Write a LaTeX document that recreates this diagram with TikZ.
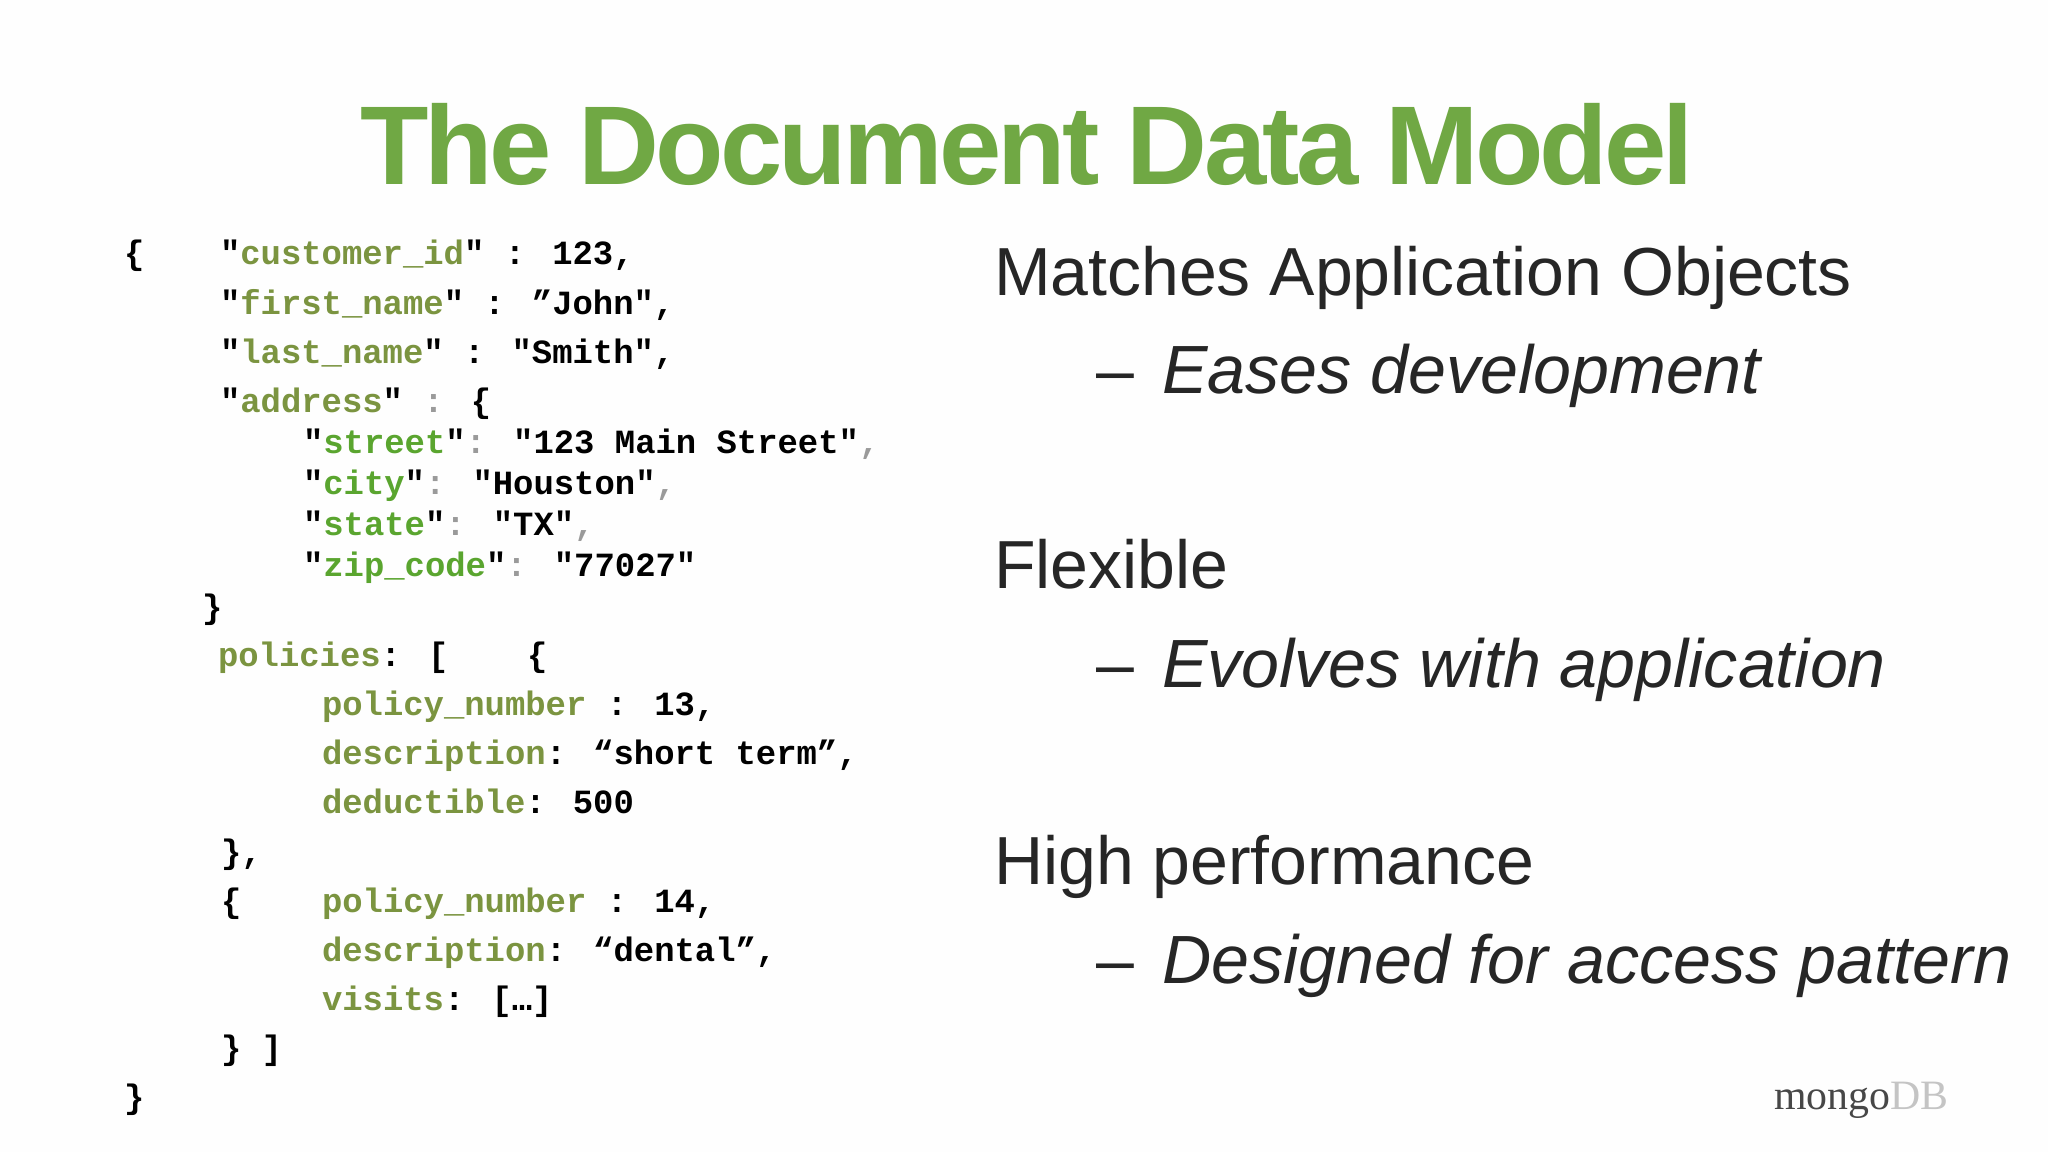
\documentclass[tikz,border=0pt]{standalone}
\usepackage{fontspec}
\setmainfont{Liberation Sans}
\newfontfamily\codefont{Liberation Mono}[Ligatures=NoCommon]
\newfontfamily\logofont{Liberation Serif}
\newfontfamily\titlefont{Liberation Sans}[LetterSpace=-3.4]
\definecolor{titlegreen}{HTML}{70A844}
\definecolor{olive}{HTML}{7B9440}
\definecolor{leaf}{HTML}{5AA52F}
\definecolor{punct}{HTML}{9A9A9A}
\definecolor{ink}{HTML}{262626}
\definecolor{paper}{HTML}{FEFEFE}
\newcommand{\ol}[1]{\textcolor{olive}{#1}}
\newcommand{\lf}[1]{\textcolor{leaf}{#1}}
\newcommand{\pn}[1]{\textcolor{punct}{#1}}
\newcommand{\us}{\symbol{95}}
\tikzset{
  every node/.style={inner sep=0pt,outer sep=0pt,anchor=base west},
  code/.style={font=\fontsize{33.9}{36}\codefont\bfseries,text=black},
  head/.style={font=\fontsize{68}{72}\selectfont,text=ink},
  sub/.style={font=\fontsize{68.2}{72}\selectfont\itshape,text=ink},
  dashmark/.style={font=\fontsize{68}{72}\selectfont,text=ink},
}
\begin{document}
\begin{tikzpicture}[x=1pt,y=-1pt]
\useasboundingbox[fill=paper] (0,0) rectangle (2048,1152);
\node[font=\fontsize{112}{116}\titlefont\bfseries,text=titlegreen] (title) at (360,184) {The Document Data Model};
% code, left
\node[code] (open) at (124,264) {\{};
\node[code] (l1) at (220,264) {"\ol{customer\us id}" : 123,};
\node[code] (l2) at (220,314) {"\ol{first\us name}" : ”John",};
\node[code] (l3) at (220,363) {"\ol{last\us name}" : "Smith",};
\node[code] (l4) at (220,412) {"\ol{address}" \pn{:} \{};
\node[code] (l5) at (303,453) {"\lf{street}"\pn{:} "123 Main Street"\pn{,}};
\node[code] (l6) at (303,494) {"\lf{city}"\pn{:} "Houston"\pn{,}};
\node[code] (l7) at (303,535) {"\lf{state}"\pn{:} "TX"\pn{,}};
\node[code] (l8) at (303,576) {"\lf{zip\us code}"\pn{:} "77027"};
\node[code] (l9) at (202,618) {\}};
\node[code] (p1) at (218,666) {\ol{policies}: [};
\node[code] (p1b) at (527,666) {\{};
\node[code] (p2) at (322,715) {\ol{policy\us number} : 13,};
\node[code] (p3) at (322,764) {\ol{description}: “short term”,};
\node[code] (p4) at (322,813) {\ol{deductible}: 500};
\node[code] (p5) at (221,863) {\},};
\node[code] (p6a) at (221,912) {\{};
\node[code] (p6) at (322,912) {\ol{policy\us number} : 14,};
\node[code] (p7) at (322,961) {\ol{description}: “dental”,};
\node[code] (p8) at (322,1010) {\ol{visits}: […]};
\node[code] (p9) at (221,1059) {\} ]};
\node[code] (close) at (124,1108) {\}};
% bullets, right
\node[head] (h1) at (994,295) {Matches Application Objects};
\node[dashmark] (d1) at (1096,393) {–};
\node[sub] (s1) at (1162,393) {Eases development};
\node[head] (h2) at (994,588) {Flexible};
\node[dashmark] (d2) at (1096,687) {–};
\node[sub] (s2) at (1162,687) {Evolves with application};
\node[head] (h3) at (994,884) {High performance};
\node[dashmark] (d3) at (1096,983) {–};
\node[sub] (s3) at (1162,983) {Designed for access pattern};
% logo
\node[font=\fontsize{41.8}{44}\logofont,text=black!72] (logo) at (1774,1109) {mongo\textcolor{black!23}{DB}};
\end{tikzpicture}
\end{document}
